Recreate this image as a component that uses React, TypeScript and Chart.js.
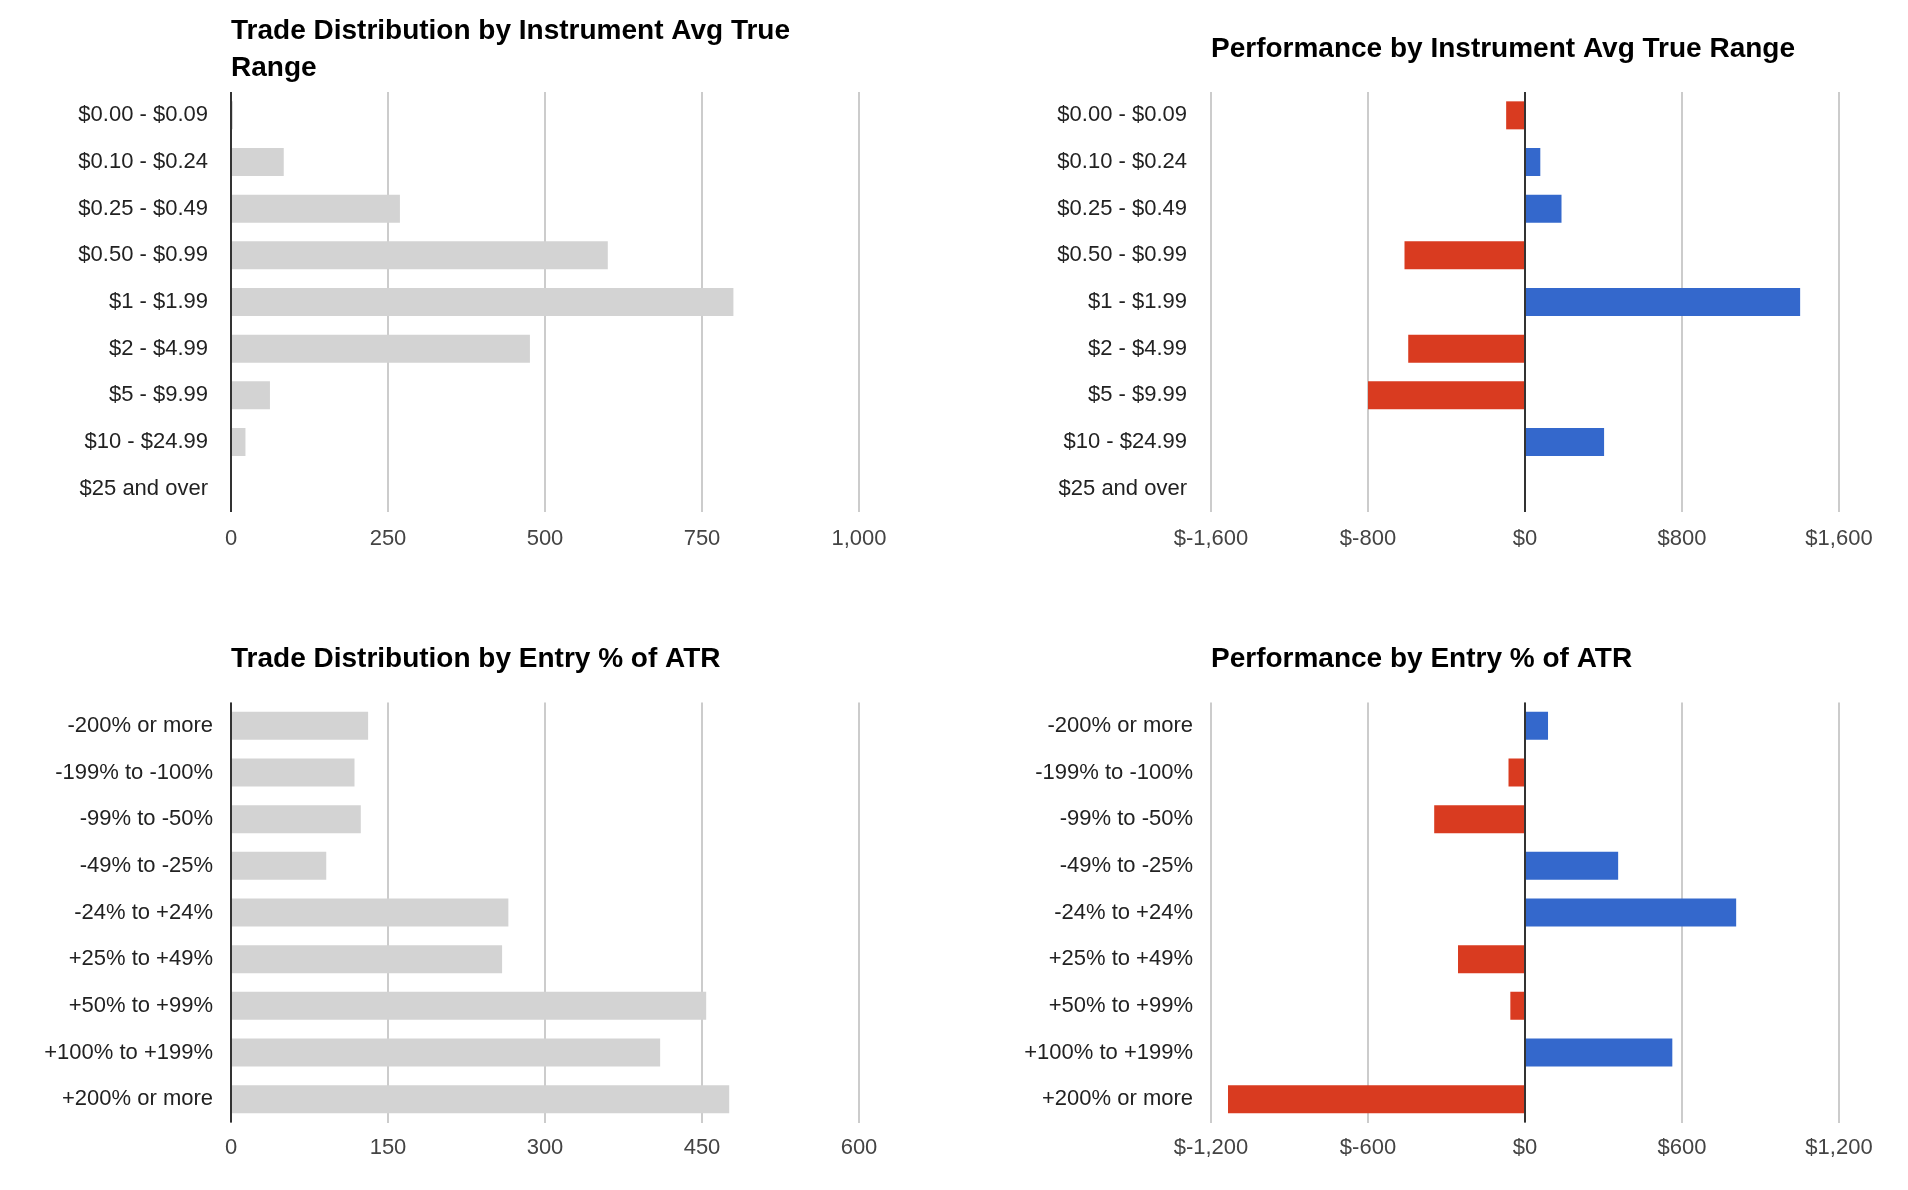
import { useEffect, useRef } from 'react';
import Chart from 'chart.js/auto';

const ATR_RANGES = [
  '$0.00 - $0.09',
  '$0.10 - $0.24',
  '$0.25 - $0.49',
  '$0.50 - $0.99',
  '$1 - $1.99',
  '$2 - $4.99',
  '$5 - $9.99',
  '$10 - $24.99',
  '$25 and over',
];
const ATR_TRADE_COUNTS = [3, 84, 269, 600, 800, 476, 62, 23, 0];
const ATR_PERFORMANCE = [-96, 78, 186, -614, 1402, -595, -800, 403, -5];

const ENTRY_RANGES = [
  '-200% or more',
  '-199% to -100%',
  '-99% to -50%',
  '-49% to -25%',
  '-24% to +24%',
  '+25% to +49%',
  '+50% to +99%',
  '+100% to +199%',
  '+200% or more',
];
const ENTRY_TRADE_COUNTS = [131, 118, 124, 91, 265, 259, 454, 410, 476];
const ENTRY_PERFORMANCE = [88, -63, -347, 356, 807, -256, -56, 563, -1135];

const FONT = '"Liberation Sans", Arial, Helvetica, sans-serif';
const GRAY = '#d3d3d3';
const BLUE = '#3468cc';
const RED = '#d93b20';

function formatCount(v: number) {
  return Number(v).toLocaleString('en-US');
}

function formatMoney(v: number) {
  return '$' + Number(v).toLocaleString('en-US');
}

// black line at x = 0, drawn over the bars
const zeroLinePlugin = {
  id: 'zeroLine',
  afterDatasetsDraw(chart: any) {
    const x = chart.scales.x.getPixelForValue(0);
    const { top, bottom } = chart.chartArea;
    const ctx = chart.ctx;
    ctx.save();
    ctx.strokeStyle = '#333333';
    ctx.lineWidth = 2;
    ctx.beginPath();
    ctx.moveTo(x, top);
    ctx.lineTo(x, bottom);
    ctx.stroke();
    ctx.restore();
  },
};

type PanelProps = {
  title: string[];
  labels: string[];
  values: number[];
  signed: boolean;
  min: number;
  max: number;
  step: number;
  left: number;
  top: number;
  yWidth: number;
  labelPad: number;
  rightPad: number;
  titlePad: { top: number; bottom: number };
  xHeight: number;
  xPad: number;
};

function BarPanel(p: PanelProps) {
  const canvasRef = useRef<HTMLCanvasElement | null>(null);

  useEffect(() => {
    const canvas = canvasRef.current;
    if (!canvas) return;
    const fmt = p.signed ? formatMoney : formatCount;

    const chart = new Chart(canvas, {
      type: 'bar',
      data: {
        labels: p.labels,
        datasets: [
          {
            data: p.values,
            backgroundColor: p.signed
              ? p.values.map((v) => (v < 0 ? RED : BLUE))
              : GRAY,
            borderWidth: 0,
            barPercentage: 0.6,
            categoryPercentage: 1,
          },
        ],
      },
      options: {
        indexAxis: 'y',
        animation: false,
        responsive: true,
        maintainAspectRatio: false,
        layout: { padding: { left: 0, right: p.rightPad, top: 0, bottom: 0 } },
        plugins: {
          legend: { display: false },
          tooltip: { enabled: false },
          title: {
            display: true,
            text: p.title,
            align: 'start',
            fullSize: false,
            color: '#000000',
            font: { family: FONT, size: 28, weight: 'bold', lineHeight: '37px' },
            padding: p.titlePad,
          },
        },
        scales: {
          x: {
            type: 'linear',
            min: p.min,
            max: p.max,
            grid: { color: '#cccccc', lineWidth: 2, drawTicks: false },
            border: { display: false },
            ticks: {
              stepSize: p.step,
              padding: p.xPad,
              color: '#444444',
              font: { family: FONT, size: 22 },
              callback: (val: any) => fmt(Number(val)),
            },
            afterFit: (s: any) => {
              s.height = p.xHeight;
            },
          },
          y: {
            type: 'category',
            grid: { display: false, drawTicks: false },
            border: { display: false },
            ticks: {
              padding: p.labelPad,
              color: '#222222',
              font: { family: FONT, size: 22 },
              autoSkip: false,
            },
            afterFit: (s: any) => {
              s.width = p.yWidth;
            },
          },
        },
      },
      plugins: [zeroLinePlugin],
    });

    return () => {
      chart.destroy();
    };
  }, [p]);

  return (
    <div style={{ position: 'absolute', left: p.left, top: p.top, width: 954, height: 595 }}>
      <canvas ref={canvasRef} />
    </div>
  );
}

const PANELS: PanelProps[] = [
  {
    title: ['Trade Distribution by Instrument Avg True', 'Range'],
    labels: ATR_RANGES,
    values: ATR_TRADE_COUNTS,
    signed: false,
    min: 0,
    max: 1000,
    step: 250,
    left: 0,
    top: 0,
    yWidth: 231,
    labelPad: 23,
    rightPad: 95,
    titlePad: { top: 13, bottom: 5 },
    xHeight: 83,
    xPad: 14,
  },
  {
    title: ['Performance by Instrument Avg True Range'],
    labels: ATR_RANGES,
    values: ATR_PERFORMANCE,
    signed: true,
    min: -1600,
    max: 1600,
    step: 800,
    left: 954,
    top: 0,
    yWidth: 257,
    labelPad: 24,
    rightPad: 69,
    titlePad: { top: 31, bottom: 24 },
    xHeight: 83,
    xPad: 14,
  },
  {
    title: ['Trade Distribution by Entry % of ATR'],
    labels: ENTRY_RANGES,
    values: ENTRY_TRADE_COUNTS,
    signed: false,
    min: 0,
    max: 600,
    step: 150,
    left: 0,
    top: 595,
    yWidth: 231,
    labelPad: 18,
    rightPad: 95,
    titlePad: { top: 45.5, bottom: 25 },
    xHeight: 67.5,
    xPad: 12,
  },
  {
    title: ['Performance by Entry % of ATR'],
    labels: ENTRY_RANGES,
    values: ENTRY_PERFORMANCE,
    signed: true,
    min: -1200,
    max: 1200,
    step: 600,
    left: 954,
    top: 595,
    yWidth: 257,
    labelPad: 18,
    rightPad: 69,
    titlePad: { top: 45.5, bottom: 25 },
    xHeight: 67.5,
    xPad: 12,
  },
];

export default function App() {
  return (
    <div style={{ position: 'absolute', left: 0, top: 0, width: 1908, height: 1190, background: '#ffffff' }}>
      {PANELS.map((p) => (
        <BarPanel key={p.title.join(' ')} {...p} />
      ))}
    </div>
  );
}
